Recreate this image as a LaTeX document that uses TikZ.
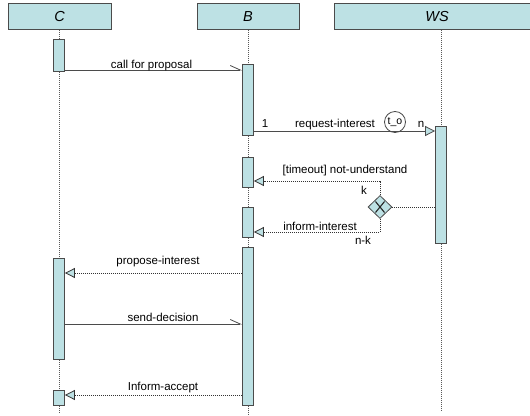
\documentclass[tikz,border=0pt]{standalone}
\usepackage{fontspec}
\setmainfont{Liberation Sans}
\usetikzlibrary{arrows.meta,shapes.geometric}
\definecolor{umlfill}{RGB}{189,225,228}
\definecolor{umlline}{RGB}{75,75,75}

\begin{document}
\begin{tikzpicture}[x=1pt,y=-1pt,
  header/.style={draw=umlline, fill=umlfill, line width=0.8pt, minimum height=26pt,
                 inner sep=0pt, font=\fontsize{14.5}{16}\selectfont\itshape},
  actbar/.style={draw=umlline, fill=umlfill, line width=0.8pt, minimum width=11pt, inner sep=0pt},
  lifeline/.style={draw=black!65, line width=0.8pt, dash pattern=on 1pt off 1pt},
  syncmsg/.style={draw=umlline, line width=0.8pt,
                  -{Straight Barb[harpoon,length=10pt,width=9pt,line width=0.8pt]}},
  asyncmsg/.style={draw=umlline, line width=0.8pt,
                   -{Triangle[open,fill=umlfill,length=10pt,width=10pt,line width=0.8pt]}},
  replymsg/.style={draw=black!80, line width=0.8pt, dash pattern=on 1pt off 1pt,
                   -{Triangle[open,fill=umlfill,length=10pt,width=10pt,line width=0.8pt]}},
  branchline/.style={draw=black!80, line width=0.8pt, dash pattern=on 1pt off 1pt},
  lbl/.style={font=\fontsize{11.5}{13}\selectfont, inner sep=0pt, anchor=base}
]
\useasboundingbox (0,0) rectangle (530,415);

% participant headers
\node[header, minimum width=103pt] (hC) at (59.5,16.5) {C};
\node[header, minimum width=102pt] (hB) at (248,16.5) {B};
\node[header, minimum width=206pt] (hWS) at (437,16.5) {WS};

% lifeline end points
\coordinate (endC) at (59,412);
\coordinate (endB) at (248,414);
\coordinate (endWS) at (441,410);
\draw[lifeline] (hC.south -| endC) -- (endC);
\draw[lifeline] (hB.south -| endB) -- (endB);
\draw[lifeline] (hWS.south -| endWS) -- (endWS);

% activation bars
\node[actbar, minimum height=32pt]  (c1)  at (59,55)    {};
\node[actbar, minimum height=101pt] (c2)  at (59,308.5) {};
\node[actbar, minimum height=15pt]  (c3)  at (59,397.5) {};
\node[actbar, minimum height=71pt]  (b1)  at (248,99.5) {};
\node[actbar, minimum height=30pt]  (b2)  at (248,172)  {};
\node[actbar, minimum height=30pt]  (b3)  at (248,222)  {};
\node[actbar, minimum height=158pt] (b4)  at (248,326)  {};
\node[actbar, minimum height=117pt] (ws1) at (441,184.5) {};

% call for proposal
\draw[syncmsg] (c1.east |- 0,70) -- (b1.west |- 0,70);
\node[lbl] (tcfp) at (151.5,68) {call for proposal};

% request-interest with multiplicities and timeout marker
\draw[asyncmsg] (b1.east |- 0,131) -- (ws1.west |- 0,131);
\node[lbl] (tone) at (265,127) {1};
\node[lbl] (treq) at (335,127) {request-interest};
\node[lbl] (tn) at (421,127) {n};
\node[draw=umlline, line width=0.8pt, circle, minimum size=21pt, inner sep=0pt,
      font=\fontsize{10.5}{12}\selectfont] (timer) at (395,122) {t\_o};

% branch diamond with cross
\node[diamond, draw=umlline, fill=umlfill, line width=0.8pt, minimum width=24pt,
      minimum height=23pt, inner sep=0pt] (dia) at (380,207) {};
\draw[line width=1.1pt, black!85] ([shift={(-4.5,-5.5)}]dia.center) -- ([shift={(4.5,5.5)}]dia.center);
\draw[line width=1.1pt, black!85] ([shift={(-4.5,5.5)}]dia.center) -- ([shift={(4.5,-5.5)}]dia.center);
\draw[branchline] (ws1.west |- dia.east) -- (dia.east);

% timeout branch
\coordinate (kTurn) at (380,181);
\draw[replymsg] (dia.north) -- (kTurn) -- (b2.east |- kTurn);
\node[lbl] (tnu) at (345,173) {[timeout] not-understand};
\node[lbl] (tk) at (364,194) {k};

% answer branch
\coordinate (nkTurn) at (380,232);
\draw[replymsg] (dia.south) -- (nkTurn) -- (b3.east |- nkTurn);
\node[lbl] (tii) at (320,230) {inform-interest};
\node[lbl] (tnk) at (363,244) {n-k};

% propose-interest
\draw[replymsg] (b4.west |- 0,273) -- (c2.east |- 0,273);
\node[lbl] (tpi) at (158,264) {propose-interest};

% send-decision
\draw[syncmsg] (c2.east |- 0,324) -- (b4.west |- 0,324);
\node[lbl] (tsd) at (163,321.5) {send-decision};

% Inform-accept
\draw[replymsg] (b4.west |- 0,395) -- (c3.east |- 0,395);
\node[lbl] (tia) at (163,390) {Inform-accept};
\end{tikzpicture}
\end{document}
